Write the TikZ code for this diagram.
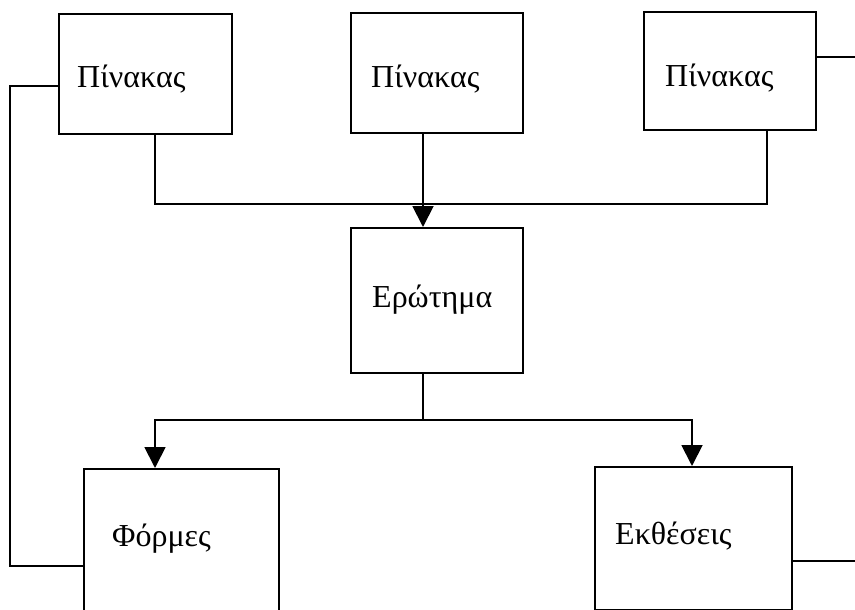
\documentclass[tikz,border=0pt]{standalone}
\usepackage{fontspec}
\setmainfont{Liberation Serif}
\usetikzlibrary{arrows.meta}
\begin{document}
\begin{tikzpicture}[x=1pt,y=-1pt,
  box/.style={draw,line width=2pt,rectangle,inner sep=0pt},
  lbl/.style={anchor=base west,inner sep=0pt,font=\fontsize{32}{36}\selectfont},
  wire/.style={line width=1.9pt},
  arr/.style={wire,-{Triangle[width=21pt,length=21pt]}}]
\useasboundingbox (0,0) rectangle (855,610);

% boxes, given by their corners
\node[box,minimum width=173pt,minimum height=120pt,anchor=north west] (t1) at (58,13) {};
\node[box,minimum width=172pt,minimum height=120pt,anchor=north west] (t2) at (350,12) {};
\node[box,minimum width=172pt,minimum height=118pt,anchor=north west] (t3) at (643,11) {};
\node[box,minimum width=172pt,minimum height=145pt,anchor=north west] (q)  at (350,227) {};
\node[box,minimum width=195pt,minimum height=160pt,anchor=north west] (f)  at (83,468) {};
\node[box,minimum width=197pt,minimum height=143pt,anchor=north west] (r)  at (594,466) {};

% labels
\node[lbl] (l1) at (77,88)  {Πίνακας};
\node[lbl] (l2) at (371,88) {Πίνακας};
\node[lbl] (l3) at (665,87) {Πίνακας};
\node[lbl] (lq) at (372,307) {Ερώτημα};
\node[lbl] (lf) at (112,546) {Φόρμες};
\node[lbl] (lr) at (615,544) {Εκθέσεις};

% junction points
\coordinate (j1) at (155,204);
\coordinate (j2) at (767,204);
\coordinate (jq) at (423,204);
\coordinate (d0) at (423,420);
\coordinate (df) at (155,420);
\coordinate (dr) at (692,420);
\coordinate (e3) at (855,57);
\coordinate (er) at (855,561);

% tables into the query
\draw[wire] (t1.south -| j1) -- (j1) -- (j2) -- (t3.south -| j2);
\draw[arr] (t2.south -| jq) -- (q.north -| jq);

% query out to forms and reports
\draw[wire] (q.south -| d0) -- (d0);
\draw[arr] (df) -- (dr) -- (r.north -| dr);
\draw[arr] (d0) -- (df) -- (f.north -| df);

% side links
\draw[wire] (t1.west |- 0,86) -- (10,86) -- (10,566) -- (f.west |- 0,566);
\draw[wire] (t3.east |- e3) -- (e3);
\draw[wire] (r.east |- er) -- (er);
\end{tikzpicture}
\end{document}
